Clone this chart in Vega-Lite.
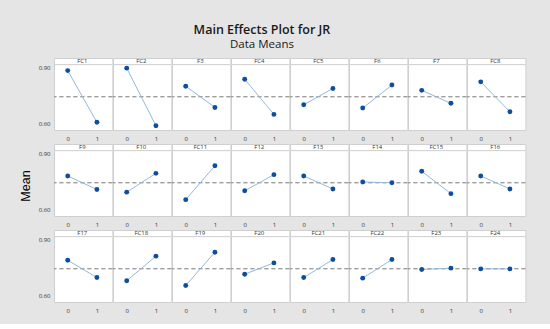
{
  "$schema": "https://vega.github.io/schema/vega-lite/v6.json",
  "background": "#e5e5e5",
  "padding": {"left": 19, "top": 23, "right": 25, "bottom": 10},
  "title": {
    "text": "Main Effects Plot for JR",
    "subtitle": "Data Means",
    "anchor": "middle",
    "dx": -11,
    "font": "Open Sans",
    "subtitleFont": "Open Sans",
    "fontSize": 12.5,
    "subtitleFontSize": 11.5,
    "fontWeight": 600,
    "subtitleFontWeight": 500,
    "color": "#1a1a1a",
    "subtitleColor": "#1a1a1a",
    "subtitlePadding": 3,
    "offset": 7
  },
  "data": {
    "values": [
      {"factor": "FC1", "r": 1, "c": 1, "level": 0, "mean": 0.883},
      {"factor": "FC1", "r": 1, "c": 1, "level": 1, "mean": 0.608},
      {"factor": "FC2", "r": 1, "c": 2, "level": 0, "mean": 0.896},
      {"factor": "FC2", "r": 1, "c": 2, "level": 1, "mean": 0.590},
      {"factor": "F3", "r": 1, "c": 3, "level": 0, "mean": 0.800},
      {"factor": "F3", "r": 1, "c": 3, "level": 1, "mean": 0.687},
      {"factor": "FC4", "r": 1, "c": 4, "level": 0, "mean": 0.837},
      {"factor": "FC4", "r": 1, "c": 4, "level": 1, "mean": 0.650},
      {"factor": "FC5", "r": 1, "c": 5, "level": 0, "mean": 0.701},
      {"factor": "FC5", "r": 1, "c": 5, "level": 1, "mean": 0.788},
      {"factor": "F6", "r": 1, "c": 6, "level": 0, "mean": 0.684},
      {"factor": "F6", "r": 1, "c": 6, "level": 1, "mean": 0.806},
      {"factor": "F7", "r": 1, "c": 7, "level": 0, "mean": 0.778},
      {"factor": "F7", "r": 1, "c": 7, "level": 1, "mean": 0.709},
      {"factor": "FC8", "r": 1, "c": 8, "level": 0, "mean": 0.823},
      {"factor": "FC8", "r": 1, "c": 8, "level": 1, "mean": 0.664},
      {"factor": "F9", "r": 2, "c": 1, "level": 0, "mean": 0.780},
      {"factor": "F9", "r": 2, "c": 1, "level": 1, "mean": 0.708},
      {"factor": "F10", "r": 2, "c": 2, "level": 0, "mean": 0.694},
      {"factor": "F10", "r": 2, "c": 2, "level": 1, "mean": 0.794},
      {"factor": "FC11", "r": 2, "c": 3, "level": 0, "mean": 0.654},
      {"factor": "FC11", "r": 2, "c": 3, "level": 1, "mean": 0.834},
      {"factor": "F12", "r": 2, "c": 4, "level": 0, "mean": 0.701},
      {"factor": "F12", "r": 2, "c": 4, "level": 1, "mean": 0.787},
      {"factor": "F13", "r": 2, "c": 5, "level": 0, "mean": 0.780},
      {"factor": "F13", "r": 2, "c": 5, "level": 1, "mean": 0.711},
      {"factor": "F14", "r": 2, "c": 6, "level": 0, "mean": 0.748},
      {"factor": "F14", "r": 2, "c": 6, "level": 1, "mean": 0.744},
      {"factor": "FC15", "r": 2, "c": 7, "level": 0, "mean": 0.805},
      {"factor": "FC15", "r": 2, "c": 7, "level": 1, "mean": 0.686},
      {"factor": "F16", "r": 2, "c": 8, "level": 0, "mean": 0.780},
      {"factor": "F16", "r": 2, "c": 8, "level": 1, "mean": 0.711},
      {"factor": "F17", "r": 3, "c": 1, "level": 0, "mean": 0.789},
      {"factor": "F17", "r": 3, "c": 1, "level": 1, "mean": 0.697},
      {"factor": "FC18", "r": 3, "c": 2, "level": 0, "mean": 0.680},
      {"factor": "FC18", "r": 3, "c": 2, "level": 1, "mean": 0.811},
      {"factor": "F19", "r": 3, "c": 3, "level": 0, "mean": 0.655},
      {"factor": "F19", "r": 3, "c": 3, "level": 1, "mean": 0.832},
      {"factor": "F20", "r": 3, "c": 4, "level": 0, "mean": 0.715},
      {"factor": "F20", "r": 3, "c": 4, "level": 1, "mean": 0.775},
      {"factor": "FC21", "r": 3, "c": 5, "level": 0, "mean": 0.697},
      {"factor": "FC21", "r": 3, "c": 5, "level": 1, "mean": 0.793},
      {"factor": "FC22", "r": 3, "c": 6, "level": 0, "mean": 0.694},
      {"factor": "FC22", "r": 3, "c": 6, "level": 1, "mean": 0.793},
      {"factor": "F23", "r": 3, "c": 7, "level": 0, "mean": 0.740},
      {"factor": "F23", "r": 3, "c": 7, "level": 1, "mean": 0.747},
      {"factor": "F24", "r": 3, "c": 8, "level": 0, "mean": 0.743},
      {"factor": "F24", "r": 3, "c": 8, "level": 1, "mean": 0.743}
    ]
  },
  "facet": {
    "row": {"field": "r", "type": "ordinal", "header": {"labels": false, "title": "Mean", "titleFont": "Liberation Sans", "titleFontSize": 12.5, "titleFontWeight": "normal", "titleColor": "#000000", "titlePadding": -4}},
    "column": {"field": "c", "type": "ordinal", "header": {"labels": false, "title": null}}
  },
  "spacing": {"row": 14, "column": 0},
  "bounds": "flush",
  "resolve": {"axis": {"x": "independent"}},
  "spec": {
    "width": 58.4,
    "height": 72,
    "layer": [
      {
        "mark": {"type": "rule", "color": "#d4d4d4", "strokeWidth": 1},
        "encoding": {"y": {"datum": 0.915}}
      },
      {
        "mark": {"type": "rule", "color": "#9a9a9a", "strokeWidth": 1, "strokeDash": [4, 3]},
        "encoding": {"y": {"datum": 0.744}}
      },
      {
        "transform": [{"filter": "datum.level == 0"}],
        "mark": {"type": "text", "font": "Open Sans", "fontSize": 6, "color": "#333333", "letterSpacing": 0.6, "baseline": "middle"},
        "encoding": {
          "x": {"datum": 0.5},
          "y": {"datum": 0.933},
          "text": {"field": "factor"}
        }
      },
      {
        "mark": {"type": "line", "color": "#97b8dc", "strokeWidth": 1},
        "encoding": {
          "x": {"field": "level", "type": "quantitative"},
          "y": {"field": "mean", "type": "quantitative"}
        }
      },
      {
        "mark": {"type": "circle", "color": "#0d4f9e", "opacity": 1, "size": 24},
        "encoding": {
          "x": {
            "field": "level", "type": "quantitative",
            "scale": {"domain": [-0.47, 1.53], "nice": false, "zero": false},
            "axis": {"values": [0, 1], "format": "d", "title": null, "grid": false, "domain": false, "ticks": false, "labelPadding": 5, "labelFont": "Open Sans", "labelFontSize": 6, "labelColor": "#333333"}
          },
          "y": {
            "field": "mean", "type": "quantitative",
            "scale": {"domain": [0.567, 0.95], "nice": false, "zero": false},
            "axis": {"values": [0.6, 0.75, 0.9], "format": ".2f", "title": null, "grid": false, "domain": false, "ticks": false, "labelPadding": 4, "labelFont": "Open Sans", "labelFontSize": 6, "labelColor": "#333333"}
          }
        }
      }
    ]
  },
  "config": {
    "view": {"fill": "#ffffff", "stroke": "#cfcfcf", "strokeWidth": 1}
  }
}
